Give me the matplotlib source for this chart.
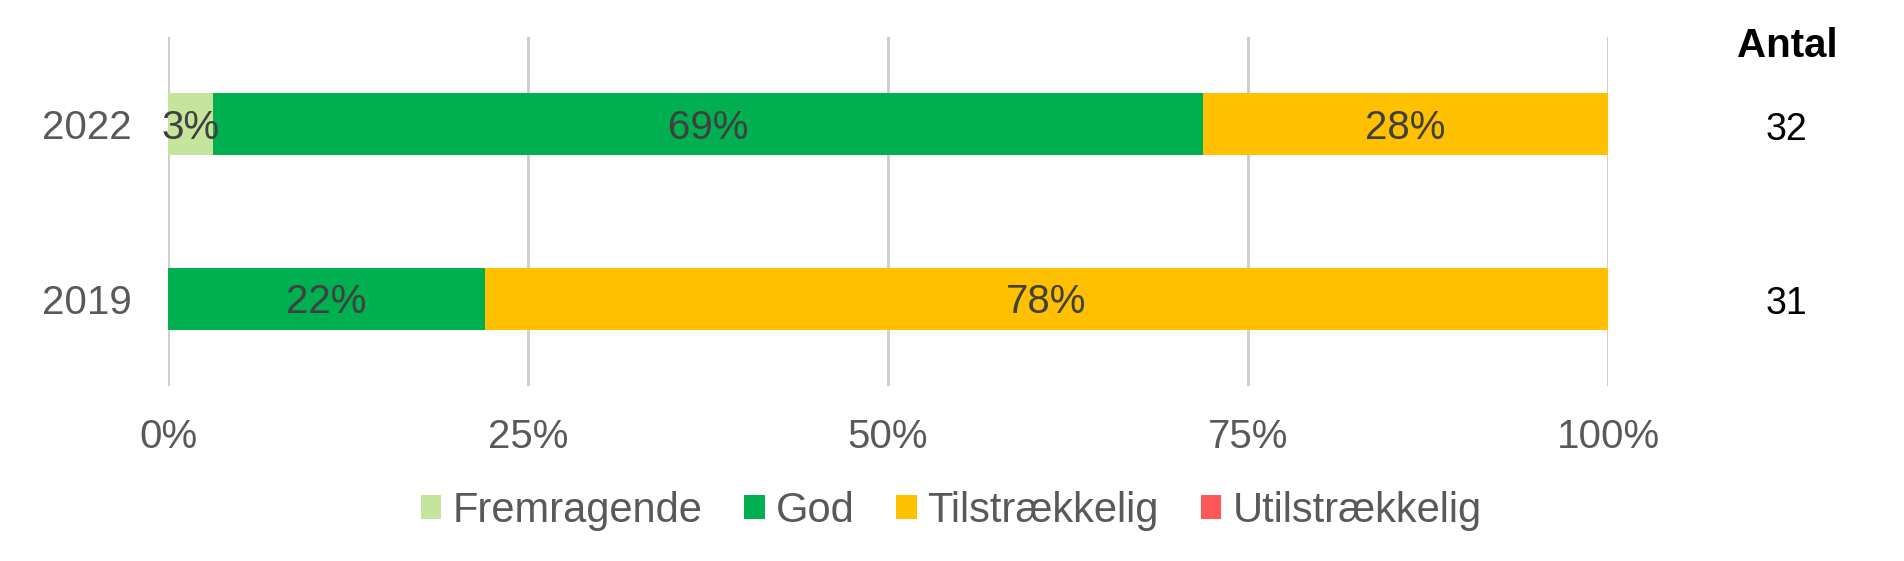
import matplotlib.pyplot as plt
import numpy as np

plt.rcParams['font.family'] = ['Liberation Sans', 'DejaVu Sans']

# data
years = ['2019', '2022']
categories = ['Fremragende', 'God', 'Tilstrækkelig', 'Utilstrækkelig']
values = {
    'Fremragende': [0, 3.1],
    'God': [22, 68.8],
    'Tilstrækkelig': [78, 28.1],
    'Utilstrækkelig': [0, 0],
}
labels = {
    'Fremragende': ['', '3%'],
    'God': ['22%', '69%'],
    'Tilstrækkelig': ['78%', '28%'],
    'Utilstrækkelig': ['', ''],
}
antal = [31, 32]
colors = ['#C5E59D', '#00AF50', '#FFC000', '#FF5757']
xticks = [0, 25, 50, 75, 100]
xticklabels = ['0%', '25%', '50%', '75%', '100%']

fig = plt.figure(figsize=(19.04, 5.61), dpi=100)
ax = fig.add_axes([168 / 1904, 1 - 386 / 561, 1440 / 1904, 349 / 561])

y = np.arange(len(years))
left = np.zeros(len(years))
for cat, col in zip(categories, colors):
    vals = np.array(values[cat], dtype=float)
    bars = ax.barh(y, vals, left=left, height=0.354, color=col, label=cat, zorder=3)
    for i, b in enumerate(bars):
        if labels[cat][i]:
            # baseline placed so the cap height sits centred on the bar
            ax.text(left[i] + vals[i] / 2, y[i] - 0.083, labels[cat][i], ha='center',
                    va='baseline', fontsize=29, color='#404040', zorder=4)
    left += vals

ax.set_xlim(0, 100)
ax.set_ylim(-0.5, 1.5)
ax.set_xticks(xticks)
ax.set_xticklabels(xticklabels)
ax.set_yticks(y)
ax.set_yticklabels(years)
ax.tick_params(axis='x', length=0, pad=23, labelsize=29, labelcolor='#595959')
ax.tick_params(axis='y', length=0, pad=26, labelsize=29, labelcolor='#595959')
ax.grid(axis='x', color='#CFCFCF', linewidth=2.2, zorder=0)
for s in ax.spines.values():
    s.set_visible(False)

# Antal column
tr = ax.get_yaxis_transform()
fig.text(1787 / 1904, 1 - 57 / 561, 'Antal', ha='center', va='baseline',
         fontsize=29, fontweight='bold', color='black')
for i, n in enumerate(antal):
    ax.text(1.124, y[i] - 0.09, str(n), transform=tr, ha='center', va='baseline',
            fontsize=27, color='black')

fig.legend(loc='center', bbox_to_anchor=(951 / 1904, 1 - 511 / 561), ncol=4,
           frameon=False, fontsize=30, labelcolor='#595959',
           handlelength=0.5, handleheight=0.5, handletextpad=0.26, columnspacing=1.0)

fig.savefig('out.png', dpi=100)
